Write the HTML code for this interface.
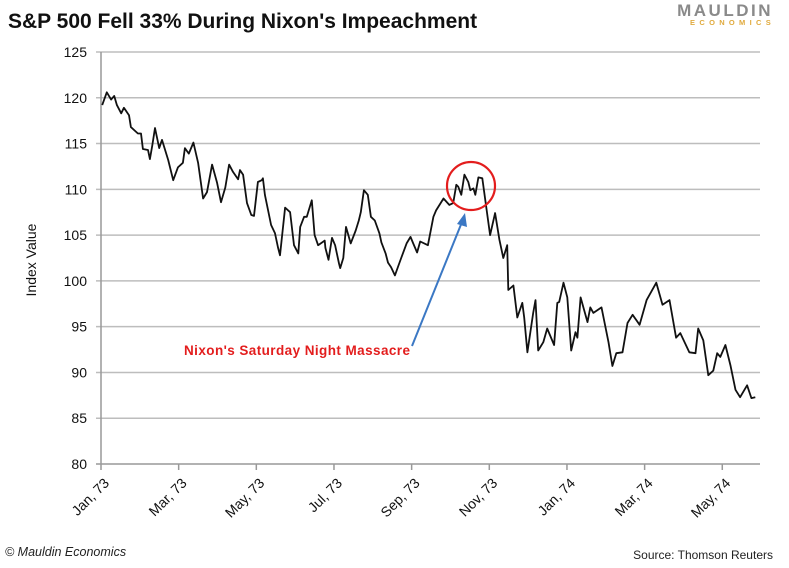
<!DOCTYPE html>
<html><head><meta charset="utf-8"><style>
html,body{margin:0;padding:0;background:#fff;width:789px;height:568px;overflow:hidden}
svg{display:block;font-family:"Liberation Sans",sans-serif}
</style></head><body>
<svg id="chart" width="789" height="568" viewBox="0 0 789 568">
<text x="8" y="28" font-size="21" font-weight="bold" fill="#111">S&amp;P 500 Fell 33% During Nixon's Impeachment</text>
<g>
<text x="773" y="16" text-anchor="end" font-size="17" font-weight="bold" fill="#8a8a8a" letter-spacing="2.5">MAULDIN</text>
<text x="775" y="25" text-anchor="end" font-size="7.5" font-weight="bold" fill="#e0aa3e" letter-spacing="4.3">ECONOMICS</text>
</g>
<text transform="translate(36,260) rotate(-90)" text-anchor="middle" font-size="14" fill="#111">Index Value</text>
<g id="grid"></g><g id="yticks"></g><g id="xticks"></g>
<line x1="101" y1="52" x2="101" y2="464" stroke="#999" stroke-width="1.5"/>
<line x1="96" y1="464" x2="760" y2="464" stroke="#999" stroke-width="1.5"/>
<path id="series" fill="none" stroke="#111" stroke-width="1.8" stroke-linejoin="round"/>
<circle cx="471" cy="186" r="24" fill="none" stroke="#e31d1d" stroke-width="2.2"/>
<line x1="412" y1="346" x2="462" y2="222" stroke="#3b78c4" stroke-width="2"/>
<polygon points="465,213 457,224 467,227" fill="#3b78c4"/>
<text x="297" y="355" text-anchor="middle" font-size="13.5" font-weight="bold" fill="#e31d1d" textLength="226">Nixon's Saturday Night Massacre</text>
<text x="5" y="556" font-size="12.5" font-style="italic" fill="#222">© Mauldin Economics</text>
<text x="773" y="559" text-anchor="end" font-size="12" fill="#222">Source: Thomson Reuters</text>
</svg>
<script>
const yTicks=[80,85,90,95,100,105,110,115,120,125];
const xLabels=["Jan, 73","Mar, 73","May, 73","Jul, 73","Sep, 73","Nov, 73","Jan, 74","Mar, 74","May, 74"];
const xLabelMonths=[0,2,4,6,8,10,12,14,16];
const months=[0.03,0.15,0.26,0.34,0.41,0.52,0.59,0.72,0.77,0.95,1.03,1.08,1.21,1.26,1.32,1.39,1.5,1.57,1.73,1.86,1.98,2.11,2.16,2.26,2.38,2.5,2.63,2.73,2.86,2.99,3.09,3.2,3.3,3.4,3.53,3.58,3.66,3.76,3.87,3.94,4.04,4.14,4.17,4.22,4.38,4.48,4.56,4.61,4.74,4.87,4.97,5.08,5.13,5.23,5.3,5.43,5.5,5.59,5.76,5.78,5.86,5.95,6.03,6.13,6.16,6.24,6.31,6.43,6.56,6.64,6.69,6.77,6.87,6.95,7.05,7.17,7.22,7.33,7.39,7.47,7.57,7.68,7.73,7.87,7.97,8.04,8.14,8.22,8.42,8.56,8.63,8.82,8.97,9.07,9.15,9.2,9.28,9.36,9.46,9.51,9.59,9.64,9.72,9.82,9.92,10.02,10.15,10.26,10.36,10.46,10.49,10.62,10.72,10.85,10.9,10.98,11.13,11.19,11.26,11.39,11.49,11.67,11.75,11.8,11.91,12.01,12.11,12.22,12.27,12.35,12.53,12.6,12.68,12.89,13.07,13.17,13.27,13.43,13.56,13.69,13.87,14.05,14.3,14.46,14.64,14.81,14.92,15.15,15.31,15.38,15.51,15.64,15.77,15.87,15.95,16.08,16.21,16.34,16.46,16.64,16.75,16.85,16.93];
const values=[119.2,120.6,119.8,120.2,119.2,118.3,118.9,118.1,116.8,116.1,116.1,114.4,114.3,113.3,114.8,116.7,114.5,115.4,113.2,111.0,112.4,112.9,114.5,113.9,115.1,112.9,109.0,109.7,112.7,110.7,108.6,110.2,112.7,111.9,111.1,112.1,111.6,108.5,107.2,107.1,110.8,111.0,111.2,109.4,106.1,105.2,103.6,102.8,108.0,107.5,103.9,103.0,105.9,107.0,107.0,108.8,105.0,103.9,104.4,103.6,102.3,104.7,103.9,101.9,101.4,102.5,105.9,104.1,105.5,106.6,107.5,109.9,109.4,107.0,106.6,105.2,104.2,103.0,102.0,101.5,100.6,101.9,102.5,104.1,104.8,104.1,103.1,104.3,103.9,107.0,107.7,109.0,108.3,108.5,110.5,110.3,109.4,111.6,110.8,109.9,110.1,109.4,111.3,111.2,108.1,105.0,107.4,104.5,102.5,103.9,99.0,99.5,96.0,97.6,96.0,92.2,96.5,97.9,92.4,93.3,94.8,93.0,97.6,97.7,99.8,98.2,92.4,94.4,93.8,98.2,95.5,97.1,96.5,97.1,93.3,90.7,92.1,92.2,95.4,96.3,95.2,97.9,99.8,97.4,97.9,93.8,94.3,92.2,92.1,94.8,93.5,89.7,90.2,92.1,91.7,93.0,90.8,88.1,87.3,88.6,87.2,87.3];
const NS="http://www.w3.org/2000/svg";
const yScale=v=>464-(v-80)*(412/45);
const xScale=m=>101+m*38.83;
const grid=document.getElementById('grid'),yt=document.getElementById('yticks'),xt=document.getElementById('xticks');
yTicks.forEach(v=>{
  const y=yScale(v);
  if(v>80){const l=document.createElementNS(NS,'line');
  l.setAttribute('x1',96);l.setAttribute('x2',760);l.setAttribute('y1',y);l.setAttribute('y2',y);
  l.setAttribute('stroke','#bdbdbd');l.setAttribute('stroke-width','1.5');
  
  
  grid.appendChild(l);}
  const t=document.createElementNS(NS,'text');
  t.setAttribute('x',87);t.setAttribute('y',y+5);t.setAttribute('text-anchor','end');t.setAttribute('font-size','14');t.setAttribute('fill','#111');
  t.textContent=v;
  
  
  yt.appendChild(t);
});
xLabels.forEach((s,i)=>{
  const x=xScale(xLabelMonths[i]);
  const l=document.createElementNS(NS,'line');
  l.setAttribute('x1',x);l.setAttribute('x2',x);l.setAttribute('y1',464);l.setAttribute('y2',470);
  l.setAttribute('stroke','#999');l.setAttribute('stroke-width','1.5');
  
  
  xt.appendChild(l);
  const t=document.createElementNS(NS,'text');
  t.setAttribute('transform','translate('+(x+9)+',484) rotate(-45)');
  t.setAttribute('text-anchor','end');t.setAttribute('font-size','14');t.setAttribute('fill','#111');
  t.textContent=s;
  
  
  xt.appendChild(t);
});
let d='';
months.forEach((m,i)=>{d+=(i?'L':'M')+xScale(m).toFixed(1)+','+yScale(values[i]).toFixed(1);});
document.getElementById('series').setAttribute('d',d);
</script>
</body></html>
